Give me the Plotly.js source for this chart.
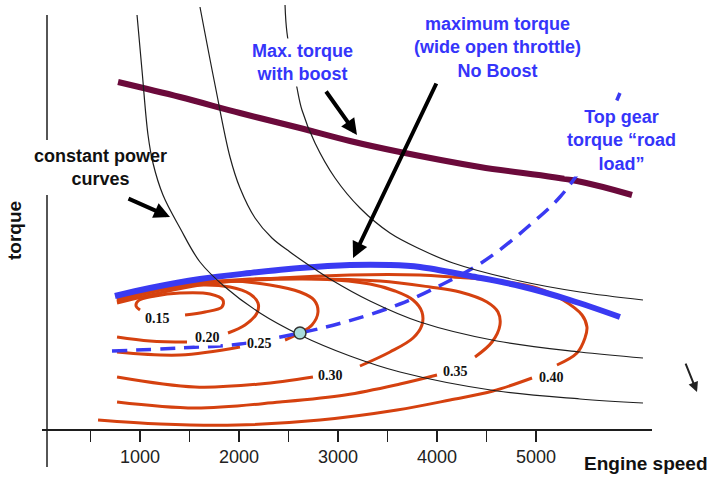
<!DOCTYPE html>
<html><head><meta charset="utf-8">
<script src="https://cdn.plot.ly/plotly-3.0.1.min.js"></script>
<style>html,body{margin:0;padding:0;background:#fff}#chart{width:718px;height:477px}</style>
</head><body><div id="chart"></div>
<script>
// Engine speed in rpm, torque in arbitrary units
const powerA_rpm = [970,1020,1081,1131,1232,1404,1606,1859,2212,2616,3121,3626,4606,5444,6081];
const powerA_torque = [414,359,294,266,234,201,167,142,116,94,73,57,38,30,26];
const powerB_rpm = [1606,1758,1909,2010,2162,2333,2515,2717,2919,3323,3828,4606,5444,6081];
const powerB_torque = [422,344,272,241,211,191,177,163,150,128,107,88,77,71];
const powerC_rpm = [2465,2485,2586,2636,2768,2970,3222,3525,3828,4162,4838,5444,6081];
const powerC_torque = [424,396,341,319,286,251,221,196,180,166,148,137,129];

const boost_rpm = [778,1404,2010,2616,3121,3626,4434,5414,5970];
const boost_torque = [347,332,316,301,288,277,262,248,234];

const wot_rpm = [747,1101,1606,2111,2616,3121,3525,3828,4333,4838,5343,5848];
const wot_torque = [133,141,150,156,161,164,164,162,153,143,129,112];

const roadLoad_rpm = [717,1404,2010,2616,3071,3626,4061,4364,4606,4939,5242,5495,5697,5848];
const roadLoad_torque = [78,81,85,96,107,125,145,161,177,204,232,266,302,336];

// efficiency contours (null = gap for the label)
const c015_rpm = [1455,1657,1828,1838,1707,1404,1152,980,960,1000];
const c015_torque = [114,117,122,129,135,136,133,128,123,119];
const c020_rpm = [768,1101,1475,null,1889,2061,2182,2192,2111,1909,1606,1202,768];
const c020_torque = [92,88,87,null,96,104,116,126,135,142,144,139,128];
const c025_rpm = [768,1404,2010,null,2465,2616,2737,2798,2758,2616,2313,1909,1404,768];
const c025_torque = [77,74,82,null,89,96,104,117,129,137,144,148,145,130];
const c030_rpm = [768,1556,2212,2747,null,3222,3525,3758,3848,3848,3758,3576,3323,2818,2111,1404,768];
const c030_torque = [52,42,45,52,null,63,77,91,104,117,129,138,145,150,150,143,128];
const c035_rpm = [768,1556,2414,3071,3626,4000,null,4384,4556,4636,4616,4505,4232,3929,3424,2616,1808,1202,768];
const c035_torque = [27,21,27,34,45,54,null,72,87,104,117,127,137,142,148,150,147,140,127];
const c040_rpm = [576,1202,1980,2818,3596,4131,4566,4960,null,5212,5414,5495,5515,5465,5273,5010,4566,4162,3828,3121,2414,1606,768];
const c040_torque = [9,5,4,9,19,29,38,51,null,64,76,91,102,114,129,141,149,152,154,154,151,144,126];

const contourLabels = ['0.15','0.20','0.25','0.30','0.35','0.40'];
const contourLabel_rpm = [1172,1677,2212,2929,4192,5152];
const contourLabel_torque = [111,92,86,54,58,52];

const point_rpm = [2616];
const point_torque = [96];

const tickVals = [500,1000,1500,2000,2500,3000,3500,4000,4500,5000];
const tickText = ['','1000','','2000','','3000','','4000','','5000'];

const RED = '#d5410f', BLUE = '#3a3af2', TEXTBLUE = '#3535fa', PURPLE = '#6b0a3b', BLACK = '#1e1e1e';

const traces = [];
[[c015_rpm,c015_torque],[c020_rpm,c020_torque],[c025_rpm,c025_torque],
 [c030_rpm,c030_torque],[c035_rpm,c035_torque],[c040_rpm,c040_torque]].forEach(c => {
  traces.push({x:c[0], y:c[1], mode:'lines', line:{color:RED, width:3, shape:'spline'}, connectgaps:false, hoverinfo:'skip'});
});
traces.push({x:wot_rpm, y:wot_torque, mode:'lines', line:{color:BLUE, width:6, shape:'spline'}, hoverinfo:'skip'});
traces.push({x:boost_rpm, y:boost_torque, mode:'lines', line:{color:PURPLE, width:6, shape:'spline'}, hoverinfo:'skip'});
traces.push({x:roadLoad_rpm, y:roadLoad_torque, mode:'lines', line:{color:BLUE, width:3.5, shape:'spline', dash:'15px,9px'}, hoverinfo:'skip'});
[[powerA_rpm,powerA_torque],[powerB_rpm,powerB_torque],[powerC_rpm,powerC_torque]].forEach(c => {
  traces.push({x:c[0], y:c[1], mode:'lines', line:{color:BLACK, width:1.2, shape:'spline'}, hoverinfo:'skip'});
});
traces.push({x:point_rpm, y:point_torque, mode:'markers', marker:{size:12, color:'#a9dcdc', line:{color:'#333', width:1.5}}, hoverinfo:'skip'});

const bfont = (size, color) => ({family:'Liberation Sans, Arial, sans-serif', size:size, color:color, weight:'bold'});

const annotations = [
  {x:2646, y:367, xref:'x', yref:'y', text:'Max. torque<br>with boost', showarrow:false, font:bfont(18,TEXTBLUE), xanchor:'center', yanchor:'middle', bgcolor:'#fff', borderpad:2},
  {x:4616, y:382, xref:'x', yref:'y', text:'maximum torque<br>(wide open throttle)<br>No Boost', showarrow:false, font:bfont(18,TEXTBLUE), xanchor:'center', yanchor:'middle'},
  {x:5859, y:289, xref:'x', yref:'y', text:'Top gear<br>torque \u201croad<br>load\u201d', showarrow:false, font:bfont(18,TEXTBLUE), xanchor:'center', yanchor:'middle', bgcolor:'#fff', borderpad:2},
  {x:596, y:262, xref:'x', yref:'y', text:'constant power<br>curves', showarrow:false, font:bfont(18,'#111'), xanchor:'center', yanchor:'middle'},
  {x:-0.0443, y:0.4639, xref:'paper', yref:'paper', text:'torque', textangle:-90, showarrow:false, font:bfont(19,'#111'), xanchor:'center', yanchor:'middle'},
  {x:0.990, y:-0.0793, xref:'paper', yref:'paper', text:'Engine speed', showarrow:false, font:bfont(19,'#111'), xanchor:'center', yanchor:'middle'},
  // arrows
  {x:1303, y:212, xref:'x', yref:'y', ax:-43, ay:-19, text:'', showarrow:true, arrowhead:2, arrowsize:0.8, arrowwidth:4, arrowcolor:'#000', standoff:0},
  {x:3192, y:294, xref:'x', yref:'y', ax:-32, ay:-45, text:'', showarrow:true, arrowhead:2, arrowsize:0.8, arrowwidth:4, arrowcolor:'#000', standoff:0},
  {x:3152, y:171, xref:'x', yref:'y', ax:84, ay:-176, text:'', showarrow:true, arrowhead:2, arrowsize:0.8, arrowwidth:4, arrowcolor:'#000', standoff:0},
  {x:1.0738, y:0.0862, xref:'paper', yref:'paper', ax:-12, ay:-30, text:'', showarrow:true, arrowhead:2, arrowsize:1, arrowwidth:2, arrowcolor:'#222', standoff:0}
];
contourLabels.forEach((t, i) => {
  annotations.push({x:contourLabel_rpm[i], y:contourLabel_torque[i], xref:'x', yref:'y', text:t, showarrow:false,
    font:{family:'Liberation Serif, Times New Roman, serif', size:14, color:'#111', weight:'bold'},
    xanchor:'center', yanchor:'middle', bgcolor:'#fff', borderpad:0});
});

const layout = {
  width:718, height:477,
  margin:{l:42, r:66, t:0, b:48, pad:0},
  paper_bgcolor:'#fff', plot_bgcolor:'#fff',
  showlegend:false,
  xaxis:{range:[10,6172], showgrid:false, zeroline:false, showline:true, linecolor:BLACK, linewidth:1.5,
    ticks:'outside', ticklen:11, tickwidth:1.5, tickcolor:BLACK, tickvals:tickVals, ticktext:tickText,
    tickfont:{family:'Liberation Sans, Arial, sans-serif', size:18, color:'#222'}, ticklabelstandoff:0, fixedrange:true},
  yaxis:{range:[0,429], visible:false, fixedrange:true},
  shapes:[
    {type:'line', xref:'paper', yref:'paper', x0:0.0082, x1:0.0082, y0:0.965, y1:0.6737, line:{color:BLACK, width:1.5}},
    {type:'line', xref:'paper', yref:'paper', x0:0.0082, x1:0.0082, y0:0.5455, y1:-0.0886, line:{color:BLACK, width:1.5}}
  ],
  annotations: annotations
};

Plotly.newPlot('chart', traces, layout, {staticPlot:true, displayModeBar:false});
</script>
</body></html>
